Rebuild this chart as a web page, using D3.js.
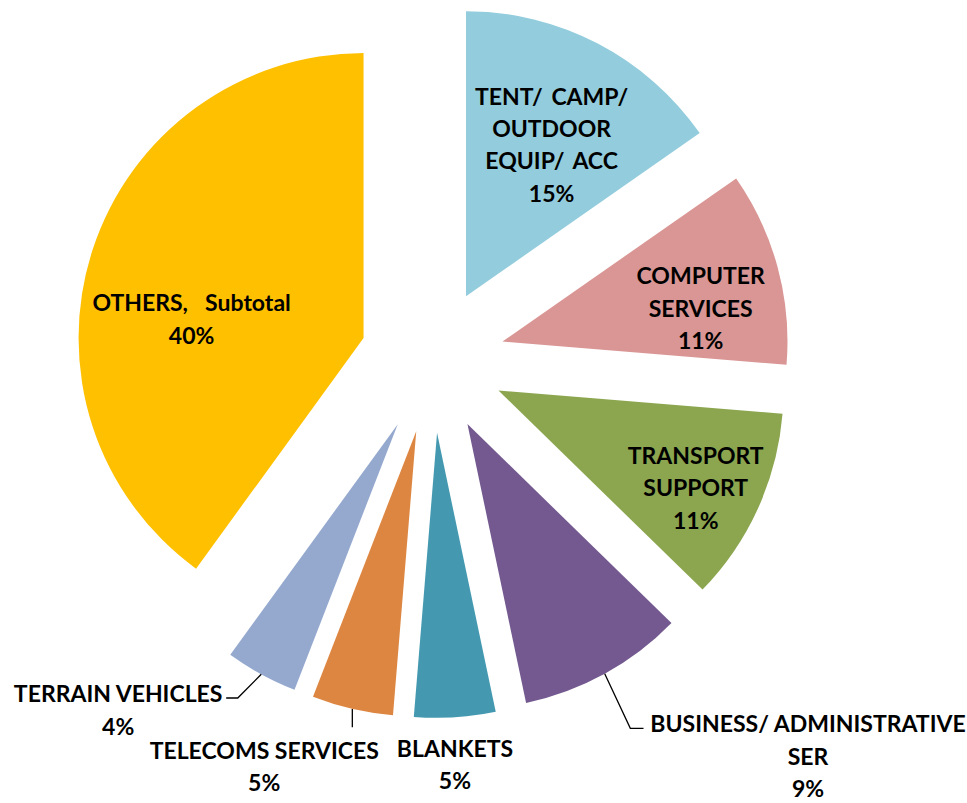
<!DOCTYPE html>
<html>
<head>
<meta charset="utf-8">
<script src="https://cdn.jsdelivr.net/npm/d3@7"></script>
<style>
  body { margin: 0; background: #ffffff; }
  text { font-family: Lato, "Open Sans", sans-serif; font-weight: bold; fill: #000; white-space: pre; }
</style>
</head>
<body>
<div id="chart"></div>
<script>
//Categories, values (percent of total) and wrapped label lines
var categories = ["TENT/ CAMP/ OUTDOOR EQUIP/ ACC", "COMPUTER SERVICES", "TRANSPORT SUPPORT",
    "BUSINESS/ ADMINISTRATIVE SER", "BLANKETS", "TELECOMS SERVICES", "TERRAIN VEHICLES", "OTHERS, Subtotal"];
var values = [15.3, 11.0, 11.0, 9.4, 4.6, 4.6, 4.1, 40.0];
var labelLines = [["TENT/ CAMP/", "OUTDOOR", "EQUIP/ ACC"], ["COMPUTER", "SERVICES"], ["TRANSPORT", "SUPPORT"],
    ["BUSINESS/ ADMINISTRATIVE", "SER"], ["BLANKETS"], ["TELECOMS SERVICES"], ["TERRAIN VEHICLES"], ["OTHERS,  Subtotal"]];

//Slice colours
var colors = ["#93cddd", "#d99694", "#8ba64f", "#73598f", "#4499b0", "#dd8641", "#95a9cf", "#ffc000"];

//Label placement (kept apart from the data)
//inside labels: polar position from the slice tip, r as share of radius, angle in degrees
//outside labels: offset of the label block from the middle of the slice's outer edge, plus leader points
var labelLayout = [
    {inside: true, r: 0.61, a: 29.5},
    {inside: true, r: 0.705, a: 80.5},
    {inside: true, r: 0.772, a: 116.3},
    {inside: false, dx: 203.3, dy: 50.3, leader: [[25.6, 54.6], [38.8, 54.6]]},
    {inside: false, dx: 0, dy: 31, leader: null},
    {inside: false, dx: -88.1, dy: 42, leader: [[0, 18.3]]},
    {inside: false, dx: -143.1, dy: 19.7, leader: [[-23.5, 23.7], [-35.1, 23.7]]},
    {inside: true, r: 0.607, a: 276.3}
];

var width = 967, height = 803;
var cx = 432.5, cy = 360.5;
var radius = 285;
var explode = 72.5;
var fontSize = 23;
var lineHeight = 32.3;

var total = d3.sum(values);
var pct = d3.format(".0%");

var svg = d3.select("#chart").append("svg")
    .attr("width", width)
    .attr("height", height);

var pie = d3.pie().sort(null).value(function(d){ return d; });
var arcs = pie(values);
var arc = d3.arc().innerRadius(0).outerRadius(radius);

//unit vector for an angle measured clockwise from 12 o'clock
function dir(a){
    return [Math.sin(a), -Math.cos(a)];
}

//slice tip after exploding it out along its middle angle
function tip(d){
    var m = (d.startAngle + d.endAngle) / 2;
    var v = dir(m);
    return [cx + explode * v[0], cy + explode * v[1]];
}

//Draw the slices
svg.selectAll("path.slice")
    .data(arcs)
    .enter()
    .append("path")
        .attr("class", "slice")
        .attr("transform", function(d){
            var t = tip(d);
            return "translate(" + t[0] + "," + t[1] + ")";
        })
        .attr("d", arc)
        .attr("fill", function(d, i){ return colors[i]; });

//Write a block of centred lines around a centre point
function writeBlock(lines, x, yCenter, spacing){
    var g = svg.append("g");
    var top = yCenter - (lines.length - 1) / 2 * lineHeight;
    lines.forEach(function(s, k){
        g.append("text")
            .attr("x", x)
            .attr("y", top + k * lineHeight + 0.36 * fontSize)
            .attr("text-anchor", "middle")
            .attr("font-size", fontSize)
            .attr("word-spacing", spacing)
            .text(s);
    });
}

arcs.forEach(function(d, i){
    var lay = labelLayout[i];
    var lines = labelLines[i].concat([pct(values[i] / total)]);
    var t = tip(d);
    if (lay.inside){
        var v = dir(lay.a * Math.PI / 180);
        var lx = t[0] + lay.r * radius * v[0];
        var ly = t[1] + lay.r * radius * v[1];
        writeBlock(lines, lx, ly, 3);
    } else {
        var m = (d.startAngle + d.endAngle) / 2;
        var e = dir(m);
        var ex = t[0] + radius * e[0];
        var ey = t[1] + radius * e[1];
        //leader line from the edge of the slice
        if (lay.leader){
            var pts = [[ex, ey]].concat(lay.leader.map(function(p){ return [ex + p[0], ey + p[1]]; }));
            svg.append("path")
                .attr("d", d3.line()(pts))
                .attr("fill", "none")
                .attr("stroke", "#000")
                .attr("stroke-width", 1.3);
        }
        var top = ey + lay.dy;
        var mid = top + (lines.length - 1) / 2 * lineHeight;
        writeBlock(lines, ex + lay.dx, mid, 0);
    }
});
</script>
</body>
</html>
